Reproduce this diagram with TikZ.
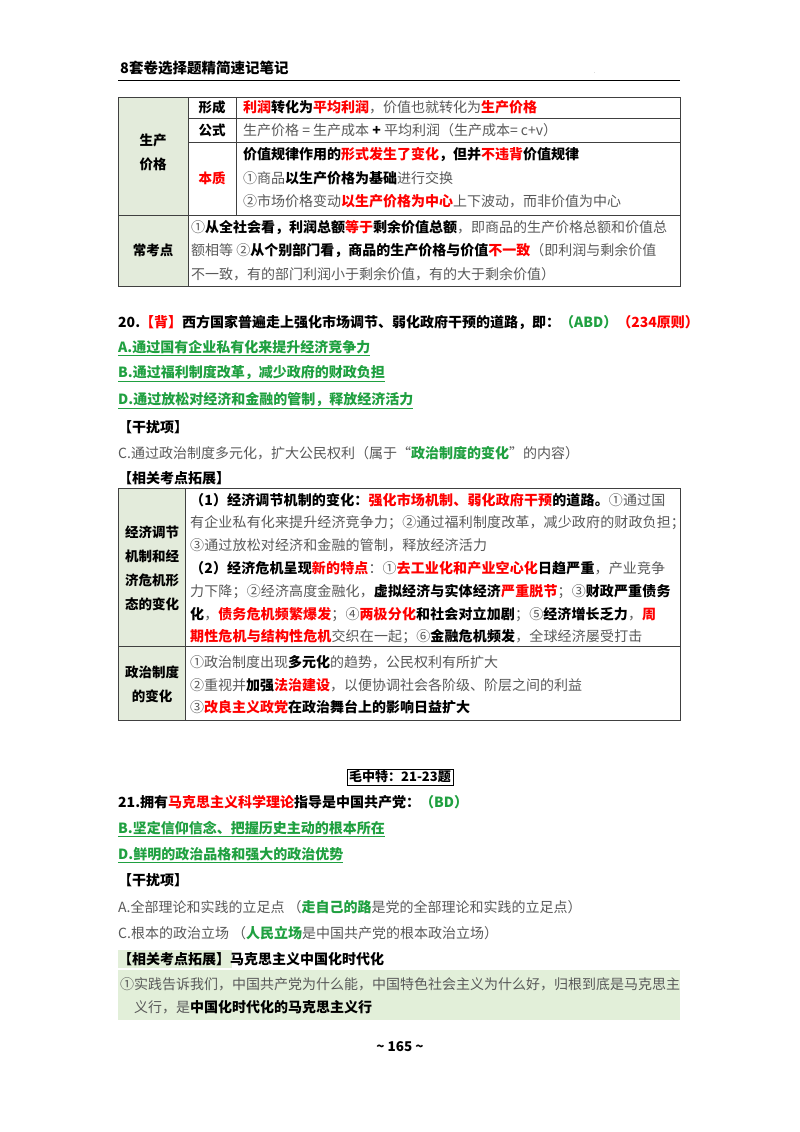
\documentclass[tikz,border=0pt]{standalone}
\usepackage{fontspec}
\setmainfont{Noto Sans CJK SC}
\definecolor{rd}{HTML}{FF0000}
\definecolor{gn}{HTML}{1FA040}
\definecolor{gt}{HTML}{595959}
\definecolor{cellg}{HTML}{E3EBDB}
\definecolor{boxg}{HTML}{E2EFD9}
\newcommand{\Rd}[1]{\textcolor{rd}{\textbf{#1}}}
\newcommand{\Bk}[1]{\textcolor{black}{\textbf{#1}}}
\newcommand{\Gn}[1]{\textcolor{gn}{\textbf{#1}}}
\begin{document}
\begin{tikzpicture}[x=1pt,y=-1pt,
  t/.style={anchor=west,inner sep=0pt,text=gt,font=\fontsize{14}{16}\selectfont},
  tt/.style={t,font=\fontsize{14}{16}\selectfont\addfontfeature{LetterSpace=1}},
  lab/.style={align=center,inner sep=0pt,text=black,font=\fontsize{13.5}{24}\selectfont\bfseries},
  grid/.style={draw=black!75,line width=0.6pt}]
\useasboundingbox (0,0) rectangle (800,1132);
\fill[white] (0,0) rectangle (800,1132);
% header
\node[t,text=black,font=\fontsize{14.5}{16}\selectfont\bfseries] (hd) at (120,68) {8套卷选择题精简速记笔记};
\draw[line width=0.8pt] (118,80) -- (680,80);
\node[t,text=black!60,font=\tiny] (dot) at (594,73) {.};
% table 1
\fill[cellg] (118,97) rectangle (188,286);
\draw[grid] (118,97) rectangle (680,286);
\draw[grid] (188,97) -- (188,286);
\draw[grid] (236,97) -- (236,215);
\draw[grid] (188,118) -- (680,118);
\draw[grid] (188,142) -- (680,142);
\draw[grid] (118,215) -- (680,215);
\node[lab] (scjg) at (153,152) {生产\\价格};
\node[lab] (xc) at (212,107) {形成};
\node[lab] (gs) at (212,130) {公式};
\node[lab,text=rd] (bz) at (212,178) {本质};
\node[lab] (ckd) at (153,250) {常考点};
\node[t] (r1) at (243,107) {\Rd{利润}\Bk{转化为}\Rd{平均利润}，价值也就转化为\Rd{生产价格}};
\node[t] (r2) at (243,130) {生产价格 = 生产成本 \Bk{+} 平均利润（生产成本= c+v）};
\node[t] (r3) at (243,155) {\Bk{价值规律作用的}\Rd{形式发生了变化}\Bk{，但并}\Rd{不违背}\Bk{价值规律}};
\node[t] (r4) at (243,178) {①商品\Bk{以生产价格为基础}进行交换};
\node[t] (r5) at (243,201) {②市场价格变动\Rd{以生产价格为中心}上下波动，而非价值为中心};
\node[t] (r6) at (191,228) {①\Bk{从全社会看，利润总额}\Rd{等于}\Bk{剩余价值总额}，即商品的生产价格总额和价值总};
\node[t] (r7) at (191,251) {额相等 ②\Bk{从个别部门看，商品的生产价格与价值}\Rd{不一致}（即利润与剩余价值};
\node[t] (r8) at (191,274) {不一致，有的部门利润小于剩余价值，有的大于剩余价值）};
% question 20
\node[t,text=black] (q20) at (118,322) {\textbf{20.}\Rd{【背】}\textbf{西方国家普遍走上强化市场调节、弱化政府干预的道路，即：}\Gn{（ABD）}\Rd{（234原则）}};
\node[t] (a20) at (118,348) {\Gn{\underline{A.通过国有企业私有化来提升经济竞争力}}};
\node[t] (b20) at (118,374) {\Gn{\underline{B.通过福利制度改革，减少政府的财政负担}}};
\node[t] (d20) at (118,401) {\Gn{\underline{D.通过放松对经济和金融的管制，释放经济活力}}};
\node[t,text=black] (gr20) at (118,427) {\textbf{【干扰项】}};
\node[t] (c20) at (118,453) {C.通过政治制度多元化，扩大公民权利（属于“\Gn{政治制度的变化}”的内容）};
\node[t,text=black] (tz20) at (118,478) {\textbf{【相关考点拓展】}};
% table 2
\fill[cellg] (118,488) rectangle (185,720);
\draw[grid] (118,488) rectangle (680,720);
\draw[grid] (185,488) -- (185,720);
\draw[grid] (118,646) -- (680,646);
\node[lab] (jj) at (152,568) {经济调节\\机制和经\\济危机形\\态的变化};
\node[lab] (zz) at (152,684) {政治制度\\的变化};
\node[tt] (s1) at (190,500) {\Bk{（1）经济调节机制的变化：}\Rd{强化市场机制、弱化政府干预}\Bk{的道路。}①通过国};
\node[tt] (s2) at (190,523) {有企业私有化来提升经济竞争力；②通过福利制度改革，减少政府的财政负担；};
\node[tt] (s3) at (190,545) {③通过放松对经济和金融的管制，释放经济活力};
\node[tt] (s4) at (190,568) {\Bk{（2）经济危机呈现}\Rd{新的特点}：①\Rd{去工业化和产业空心化}\Bk{日趋严重}，产业竞争};
\node[tt] (s5) at (190,592) {力下降；②经济高度金融化，\Bk{虚拟经济与实体经济}\Rd{严重脱节}；③\Bk{财政严重债务}};
\node[tt] (s6) at (190,615) {\Bk{化}，\Rd{债务危机频繁爆发}；④\Rd{两极分化}\Bk{和社会对立加剧}；⑤\Bk{经济增长乏力}，\Rd{周}};
\node[tt] (s7) at (190,637) {\Rd{期性危机与结构性危机}交织在一起；⑥\Bk{金融危机频发}，全球经济屡受打击};
\node[t] (p1) at (190,662) {①政治制度出现\Bk{多元化}的趋势，公民权利有所扩大};
\node[t] (p2) at (190,685) {②重视并\Bk{加强}\Rd{法治建设}，以便协调社会各阶级、阶层之间的利益};
\node[t] (p3) at (190,707) {③\Rd{改良主义政党}\Bk{在政治舞台上的影响日益扩大}};
% section title
\node[draw=black,line width=0.6pt,inner sep=2pt,text=black,font=\fontsize{13}{15}\selectfont\bfseries] (sec) at (400,777) {毛中特：21-23题};
% question 21
\node[t,text=black] (q21) at (118,802) {\textbf{21.拥有}\Rd{马克思主义科学理论}\textbf{指导是中国共产党：}\Gn{（BD）}};
\node[t] (b21) at (118,829) {\Gn{\underline{B.坚定信仰信念、把握历史主动的根本所在}}};
\node[t] (d21) at (118,855) {\Gn{\underline{D.鲜明的政治品格和强大的政治优势}}};
\node[t,text=black] (gr21) at (118,880) {\textbf{【干扰项】}};
\node[t] (a21) at (118,907) {A.全部理论和实践的立足点 （\Gn{走自己的路}是党的全部理论和实践的立足点）};
\node[t] (c21) at (118,933) {C.根本的政治立场 （\Gn{人民立场}是中国共产党的根本政治立场）};
\fill[boxg] (118,950) rectangle (232,968);
\node[t,text=black] (tz21) at (118,959) {\textbf{【相关考点拓展】马克思主义中国化时代化}};
\fill[boxg] (118,970) rectangle (680,1020);
\node[t] (m1) at (120,984) {①实践告诉我们，中国共产党为什么能，中国特色社会主义为什么好，归根到底是马克思主};
\node[t] (m2) at (134,1007) {义行，是\Bk{中国化时代化的马克思主义行}};
% footer
\node[text=black,font=\fontsize{13.5}{15}\selectfont\bfseries] (ft) at (400,1047) {\textasciitilde\ 165 \textasciitilde};
\end{tikzpicture}
\end{document}
